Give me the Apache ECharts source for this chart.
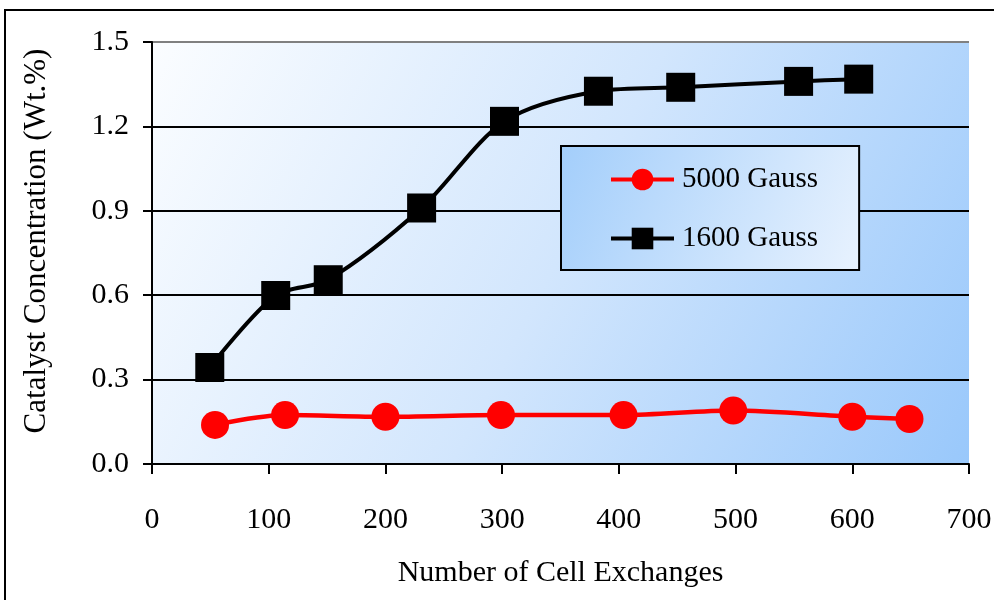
<!DOCTYPE html>
<html>
<head>
<meta charset="utf-8">
<script src="https://cdn.jsdelivr.net/npm/echarts@6/dist/echarts.min.js"></script>
<style>
html,body{margin:0;padding:0;background:#fff;}
#chart{width:994px;height:600px;}
</style>
</head>
<body>
<div id="chart"></div>
<script>
// Data
const gauss5000X = [54, 114, 200, 299, 404, 498, 600, 649];
const gauss5000Y = [0.139, 0.174, 0.168, 0.174, 0.174, 0.190, 0.168, 0.160];
const gauss1600X = [49.5, 106, 151, 231, 302, 382.5, 453, 554, 605.5];
const gauss1600Y = [0.343, 0.599, 0.655, 0.910, 1.218, 1.325, 1.339, 1.360, 1.368];
const seriesNames = ['5000 Gauss', '1600 Gauss'];
const xTitle = 'Number of Cell Exchanges';
const yTitle = 'Catalyst Concentration (Wt.%)';

function pairs(xs, ys){ return xs.map((x,i)=>[x, ys[i]]); }

const FONT = 'Liberation Serif';
const chart = echarts.init(document.getElementById('chart'), null, {renderer:'canvas'});
chart.setOption({
  animation:false,
  backgroundColor:'#ffffff',
  textStyle:{fontFamily:FONT},
  grid:{
    left:152, right:25, top:42, bottom:136,
    outerBoundsMode:'none', containLabel:false,
    show:true, borderWidth:0,
    backgroundColor:{type:'linear', x:0, y:0, x2:1, y2:1,
      colorStops:[{offset:0,color:'#fbfdff'},{offset:0.5,color:'#d2e6fd'},{offset:1,color:'#99c8fb'}]}
  },
  legend:{
    orient:'vertical',
    left:561, top:146,
    padding:[19,41,17,48],
    itemWidth:63, itemHeight:27, itemGap:30,
    borderColor:'#000', borderWidth:2,
    backgroundColor:{type:'linear', x:0, y:0, x2:1, y2:1,
      colorStops:[{offset:0,color:'#a3cefb'},{offset:1,color:'#e8f2fe'}]},
    lineStyle:{width:4},
    textStyle:{fontFamily:FONT, fontSize:29, color:'#000', lineHeight:27, padding:[0,0,0,3]},
    data:seriesNames
  },
  xAxis:{
    type:'value', min:0, max:700, interval:100,
    name:xTitle, nameLocation:'middle', nameGap:94,
    nameTextStyle:{fontFamily:FONT, fontSize:30, color:'#000'},
    axisLine:{show:true, onZero:false, lineStyle:{color:'#000', width:2}},
    axisTick:{show:true, inside:false, length:10, lineStyle:{color:'#000', width:2}},
    axisLabel:{fontFamily:FONT, fontSize:30, color:'#000', margin:41},
    splitLine:{show:false}
  },
  yAxis:{
    type:'value', min:0, max:1.5, interval:0.3,
    name:yTitle, nameLocation:'middle', nameGap:100, nameRotate:90,
    nameTextStyle:{fontFamily:FONT, fontSize:31, color:'#000', padding:[0,0,0,24]},
    axisLine:{show:true, onZero:false, lineStyle:{color:'#000', width:2}},
    axisTick:{show:true, inside:false, length:9, lineStyle:{color:'#000', width:2}},
    axisLabel:{fontFamily:FONT, fontSize:30, color:'#000', margin:23,
      formatter:v=>v.toFixed(1)},
    splitLine:{show:true, lineStyle:{color:['#000','#000','#000','#000','#000','#808080'], width:2}}
  },
  graphic:[{
    type:'rect', silent:true,
    shape:{x:5,y:10,width:1000,height:600},
    style:{fill:null, stroke:'#000', lineWidth:2}
  }],
  series:[
    {
      name:seriesNames[0], type:'line', smooth:0.3,
      data:pairs(gauss5000X, gauss5000Y),
      symbol:'circle', symbolSize:28,
      lineStyle:{color:'#ff0000', width:4.5},
      itemStyle:{color:'#ff0000'},
      z:3
    },
    {
      name:seriesNames[1], type:'line', smooth:0.3,
      data:pairs(gauss1600X, gauss1600Y),
      symbol:'rect', symbolSize:29,
      lineStyle:{color:'#000000', width:4},
      itemStyle:{color:'#000000'},
      z:3
    }
  ]
});
</script>
</body>
</html>
